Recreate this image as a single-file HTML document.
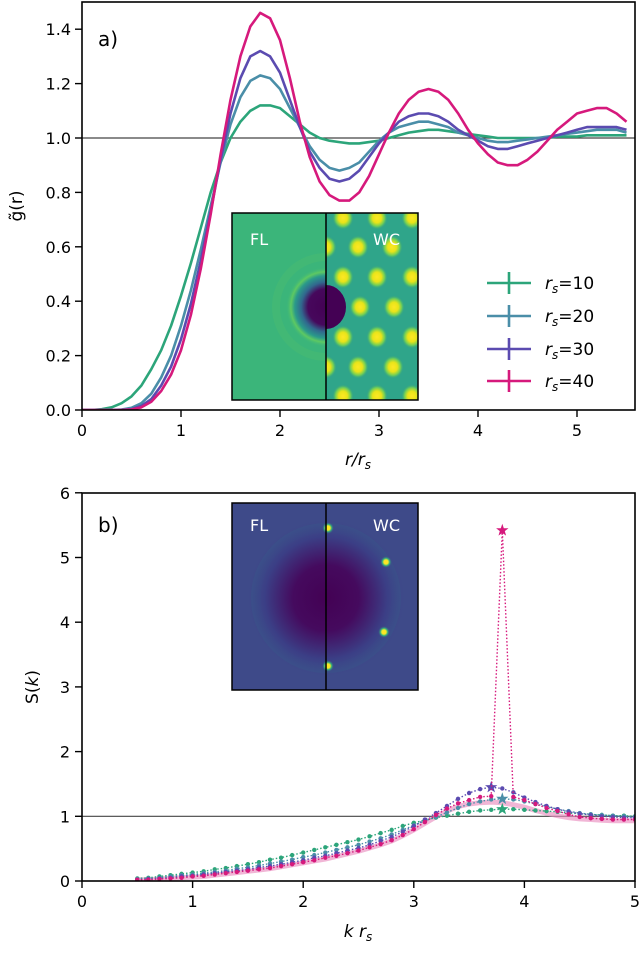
<!DOCTYPE html>
<html><head><meta charset="utf-8"><style>
html,body{margin:0;padding:0;background:#fff;}
svg{display:block;font-family:"DejaVu Sans","Liberation Sans",sans-serif;}
</style></head><body>
<svg id="fig" width="640" height="968" viewBox="0 0 640 968" xmlns="http://www.w3.org/2000/svg">
<defs>
<radialGradient id="hole" cx="0.5" cy="0.5" r="0.5">
<stop offset="0" stop-color="#440154"/><stop offset="0.45" stop-color="#46085c"/><stop offset="0.62" stop-color="#31688e"/><stop offset="0.78" stop-color="#2a9a8a"/><stop offset="0.88" stop-color="#5ec962"/><stop offset="1" stop-color="#3bb57a" stop-opacity="0"/>
</radialGradient>
<radialGradient id="blob" cx="0.5" cy="0.5" r="0.5">
<stop offset="0" stop-color="#fde725"/><stop offset="0.4" stop-color="#e8e419"/><stop offset="0.7" stop-color="#6ece58"/><stop offset="1" stop-color="#2a9a8a" stop-opacity="0"/>
</radialGradient>
<radialGradient id="skdark" cx="0.5" cy="0.5" r="0.5">
<stop offset="0" stop-color="#440154"/><stop offset="0.4" stop-color="#450a5e"/><stop offset="0.75" stop-color="#3b3f86"/><stop offset="1" stop-color="#3e4a89" stop-opacity="0"/>
</radialGradient>
<radialGradient id="bragg" cx="0.5" cy="0.5" r="0.5">
<stop offset="0" stop-color="#fde725"/><stop offset="0.35" stop-color="#fde725"/><stop offset="0.6" stop-color="#35b779"/><stop offset="1" stop-color="#3e4a89" stop-opacity="0"/>
</radialGradient>
<clipPath id="clipA"><rect x="82" y="2" width="553" height="408"/></clipPath>
<clipPath id="clipB"><rect x="82" y="493" width="553" height="388"/></clipPath>
<clipPath id="clipI1"><rect x="232" y="213" width="186" height="187"/></clipPath>
<clipPath id="clipI1R"><rect x="326" y="213" width="92" height="187"/></clipPath>
<clipPath id="clipI2"><rect x="232" y="503" width="186" height="187"/></clipPath>
</defs>
<g id="axA"></g>
<g id="axB"></g>
</svg>
<script>
// ---------- Panel a data ----------
const rVals = [0,0.1,0.2,0.3,0.4,0.5,0.6,0.7,0.8,0.9,1.0,1.1,1.2,1.3,1.4,1.5,1.6,1.7,1.8,1.9,2.0,2.1,2.2,2.3,2.4,2.5,2.6,2.7,2.8,2.9,3.0,3.1,3.2,3.3,3.4,3.5,3.6,3.7,3.8,3.9,4.0,4.1,4.2,4.3,4.4,4.5,4.6,4.7,4.8,4.9,5.0,5.1,5.2,5.3,5.4,5.5];
const g10 = [0,0,0.003,0.01,0.025,0.05,0.09,0.15,0.22,0.31,0.42,0.54,0.67,0.80,0.91,1.00,1.06,1.10,1.12,1.12,1.11,1.08,1.05,1.02,1.00,0.99,0.985,0.98,0.98,0.985,0.99,1.0,1.01,1.02,1.025,1.03,1.03,1.025,1.02,1.015,1.01,1.005,1.0,1.0,1.0,1.0,1.0,1.0,1.005,1.005,1.005,1.01,1.01,1.01,1.01,1.01];
const g20 = [0,0,0,0,0.002,0.008,0.025,0.06,0.12,0.20,0.31,0.44,0.59,0.75,0.91,1.05,1.15,1.21,1.23,1.22,1.18,1.11,1.04,0.97,0.92,0.89,0.88,0.89,0.91,0.95,0.99,1.02,1.04,1.05,1.06,1.06,1.05,1.04,1.02,1.01,1.00,0.99,0.985,0.985,0.99,0.995,1.0,1.005,1.01,1.015,1.02,1.025,1.03,1.03,1.03,1.02];
const g30 = [0,0,0,0,0,0.003,0.015,0.04,0.09,0.16,0.26,0.39,0.55,0.73,0.92,1.09,1.22,1.30,1.32,1.30,1.24,1.14,1.04,0.95,0.89,0.85,0.84,0.85,0.88,0.93,0.98,1.02,1.06,1.08,1.09,1.09,1.08,1.06,1.03,1.01,0.99,0.97,0.96,0.96,0.97,0.98,0.99,1.0,1.01,1.02,1.03,1.04,1.04,1.04,1.04,1.03];
const g40 = [0,0,0,0,0,0.002,0.01,0.03,0.07,0.13,0.22,0.35,0.52,0.72,0.94,1.14,1.30,1.41,1.46,1.44,1.36,1.22,1.06,0.93,0.84,0.79,0.77,0.77,0.80,0.86,0.94,1.02,1.09,1.14,1.17,1.18,1.17,1.14,1.09,1.03,0.98,0.94,0.91,0.90,0.90,0.92,0.95,0.99,1.03,1.06,1.09,1.10,1.11,1.11,1.09,1.06];
const aXTicks = [0,1,2,3,4,5];
const aYTicks = [0.0,0.2,0.4,0.6,0.8,1.0,1.2,1.4];
const aYTickLabels = ["0.0","0.2","0.4","0.6","0.8","1.0","1.2","1.4"];
const legendLabels = ["10","20","30","40"];

// ---------- Panel b data ----------
const kVals = [0.5,0.6,0.7,0.8,0.9,1.0,1.1,1.2,1.3,1.4,1.5,1.6,1.7,1.8,1.9,2.0,2.1,2.2,2.3,2.4,2.5,2.6,2.7,2.8,2.9,3.0,3.1,3.2,3.3,3.4,3.5,3.6,3.7,3.8,3.9,4.0,4.1,4.2,4.3,4.4,4.5,4.6,4.7,4.8,4.9,5.0];
const s10 = [0.04,0.05,0.07,0.09,0.11,0.13,0.15,0.18,0.20,0.23,0.26,0.29,0.33,0.36,0.40,0.44,0.48,0.52,0.56,0.60,0.64,0.69,0.74,0.79,0.85,0.90,0.94,0.98,1.01,1.04,1.07,1.09,1.10,1.11,1.11,1.10,1.09,1.08,1.07,1.05,1.04,1.03,1.02,1.01,1.01,1.00];
const s20 = [0.03,0.04,0.05,0.07,0.09,0.10,0.12,0.14,0.16,0.19,0.21,0.24,0.27,0.30,0.33,0.37,0.40,0.44,0.48,0.52,0.56,0.61,0.66,0.72,0.79,0.86,0.93,0.99,1.06,1.13,1.19,1.23,1.26,1.27,1.26,1.23,1.19,1.15,1.11,1.08,1.05,1.03,1.02,1.01,1.00,0.99];
const s30 = [0.02,0.03,0.04,0.05,0.07,0.08,0.10,0.12,0.14,0.16,0.18,0.21,0.23,0.26,0.29,0.32,0.36,0.39,0.43,0.47,0.51,0.56,0.62,0.68,0.76,0.85,0.95,1.05,1.16,1.27,1.36,1.42,1.45,1.43,1.37,1.29,1.22,1.16,1.11,1.07,1.04,1.02,1.00,0.99,0.98,0.98];
const s40 = [0.02,0.02,0.03,0.04,0.05,0.07,0.08,0.10,0.12,0.14,0.16,0.18,0.20,0.23,0.26,0.29,0.32,0.36,0.39,0.43,0.47,0.52,0.57,0.63,0.71,0.80,0.91,1.02,1.12,1.20,1.25,1.30,1.31,5.42,1.30,1.25,1.19,1.13,1.08,1.03,0.99,0.97,0.96,0.95,0.95,0.95];
const s40theory = [0.02,0.02,0.03,0.04,0.05,0.06,0.07,0.09,0.11,0.13,0.15,0.17,0.19,0.22,0.25,0.28,0.31,0.34,0.38,0.42,0.46,0.51,0.56,0.62,0.70,0.79,0.89,0.99,1.08,1.15,1.19,1.21,1.22,1.21,1.18,1.14,1.09,1.05,1.01,0.98,0.96,0.95,0.94,0.93,0.93,0.93];
const starK = [3.8,3.8,3.7,3.8];
const bXTicks = [0,1,2,3,4,5];
const bYTicks = [0,1,2,3,4,5,6];

const colors = ["#2ca57a","#4a8ea8","#5b4bb0","#d6197c"];
const NS = "http://www.w3.org/2000/svg";
function mk(parent, tag, attrs, text){
  const e = document.createElementNS(NS, tag);
  for (const k in attrs) e.setAttribute(k, attrs[k]);
  if (text !== undefined) e.textContent = text;
  parent.appendChild(e);
  return e;
}
function ax(v){ return 82 + v*99; }
function ay(v){ return 410 - v*272; }
function bx(v){ return 82 + v*110.6; }
function by(v){ return 881 - v*64.7; }

const A = document.getElementById('axA');
const B = document.getElementById('axB');

// ===== Panel A =====
let hl = mk(A,'line',{x1:82,x2:635,y1:ay(1),y2:ay(1),stroke:'#444','stroke-width':1.2});


const gSeries=[g10,g20,g30,g40];
const gClip = mk(A,'g',{'clip-path':'url(#clipA)'});
gSeries.forEach((s,i)=>{
  const pts = s.map((v,j)=>ax(rVals[j]).toFixed(1)+','+ay(v).toFixed(1)).join(' ');
  const p = mk(gClip,'polyline',{points:pts,fill:'none',stroke:colors[i],'stroke-width':2.6,'stroke-linejoin':'round'});
  
  
});
// inset 1
const in1 = mk(A,'g',{});


mk(in1,'rect',{x:232,y:213,width:186,height:187,fill:'#3bb57a'});
const i1c = mk(in1,'g',{'clip-path':'url(#clipI1)'});
mk(i1c,'circle',{cx:326,cy:307,r:50,fill:'none',stroke:'#5ec962','stroke-width':8,opacity:0.2});
mk(i1c,'circle',{cx:326,cy:307,r:40,fill:'url(#hole)'});
const i1r = mk(in1,'g',{'clip-path':'url(#clipI1R)'});
mk(i1r,'rect',{x:326,y:213,width:92,height:187,fill:'#2fa58a'});
const blobs=[[343,218],[377,218],[412,218],[326,247],[358,247],[392,247],[343,277],[377,277],[412,277],[360,307],[394,307],[343,337],[377,337],[412,337],[326,367],[358,367],[393,367],[343,396],[377,396],[412,396]];
blobs.forEach(b=>mk(i1r,'ellipse',{cx:b[0],cy:b[1],rx:11,ry:12,fill:'url(#blob)'}));
mk(i1r,'ellipse',{cx:326,cy:307,rx:20,ry:22,fill:'#440154'});
mk(in1,'line',{x1:326,x2:326,y1:213,y2:400,stroke:'#000','stroke-width':1.5});
mk(in1,'rect',{x:232,y:213,width:186,height:187,fill:'none',stroke:'#000','stroke-width':1.5});
mk(in1,'text',{x:250,y:245,fill:'#fff','font-size':16},'FL');
mk(in1,'text',{x:373,y:245,fill:'#fff','font-size':16},'WC');

let fr = mk(A,'rect',{x:82,y:2,width:553,height:408,fill:'none',stroke:'#000','stroke-width':1.6});


aXTicks.forEach(t=>{
  mk(A,'line',{x1:ax(t),x2:ax(t),y1:410,y2:417,stroke:'#000','stroke-width':1.4});
  const tl = mk(A,'text',{x:ax(t),y:436,'font-size':16,'text-anchor':'middle'},String(t));
  
  
});
aYTicks.forEach((t,i)=>{
  mk(A,'line',{x1:75,x2:82,y1:ay(t),y2:ay(t),stroke:'#000','stroke-width':1.4});
  const tl = mk(A,'text',{x:71,y:ay(t)+6,'font-size':16,'text-anchor':'end'},aYTickLabels[i]);
  
  
});
let xt = mk(A,'text',{x:358,y:465,'font-size':17,'text-anchor':'middle','font-style':'italic'});


xt.innerHTML='r/r<tspan font-size="12" dy="4">s</tspan>';
let yt = mk(A,'text',{x:22,y:206,'font-size':17,'text-anchor':'middle',transform:'rotate(-90 22 206)'},'g̃(r)');


let pa = mk(A,'text',{x:98,y:46,'font-size':20},'a)');


const legendY=[283,316,349,381];
legendLabels.forEach((lab,i)=>{
  const g = mk(A,'g',{});
  
  
  const y=legendY[i];
  mk(g,'line',{x1:487,x2:531,y1:y,y2:y,stroke:colors[i],'stroke-width':2.6});
  mk(g,'line',{x1:509,x2:509,y1:y-11,y2:y+11,stroke:colors[i],'stroke-width':2.6});
  const t=mk(g,'text',{x:545,y:y+6,'font-size':17});
  t.innerHTML='<tspan font-style="italic">r</tspan><tspan font-size="12" dy="4" font-style="italic">s</tspan><tspan dy="-4">='+lab+'</tspan>';
});

// ===== Panel B =====
let hl2 = mk(B,'line',{x1:82,x2:635,y1:by(1),y2:by(1),stroke:'#444','stroke-width':1.2});


const bClip = mk(B,'g',{'clip-path':'url(#clipB)'});
const th = mk(bClip,'polyline',{points:s40theory.map((v,j)=>bx(kVals[j]).toFixed(1)+','+by(v).toFixed(1)).join(' '),fill:'none',stroke:'#e98fc0','stroke-width':5,opacity:0.65});


const sSeries=[s10,s20,s30,s40];
sSeries.forEach((s,i)=>{
  const g = mk(bClip,'g',{});
  
  
  mk(g,'polyline',{points:s.map((v,j)=>bx(kVals[j]).toFixed(1)+','+by(v).toFixed(1)).join(' '),fill:'none',stroke:colors[i],'stroke-width':1.4,'stroke-dasharray':'1.5 2'});
  s.forEach((v,j)=>{
    if (Math.abs(kVals[j]-starK[i])<1e-6) return;
    const c = mk(g,'circle',{cx:bx(kVals[j]),cy:by(v),r:2.2,fill:colors[i]});
    
    
  });
  const si = kVals.findIndex(k=>Math.abs(k-starK[i])<1e-6);
  const cx=bx(starK[i]), cy=by(s[si]);
  let pts=[];
  for(let q=0;q<10;q++){const a=-Math.PI/2+q*Math.PI/5;const rr=q%2?2.6:6.5;pts.push((cx+rr*Math.cos(a)).toFixed(1)+','+(cy+rr*Math.sin(a)).toFixed(1));}
  const st = mk(g,'polygon',{points:pts.join(' '),fill:colors[i]});
  
  
});
const in2 = mk(B,'g',{});


mk(in2,'rect',{x:232,y:503,width:186,height:187,fill:'#3e4a89'});
const i2c = mk(in2,'g',{'clip-path':'url(#clipI2)'});
mk(i2c,'circle',{cx:326,cy:598,r:70,fill:'none',stroke:'#2f6f8e','stroke-width':10,opacity:0.25});
mk(i2c,'circle',{cx:326,cy:598,r:82,fill:'url(#skdark)'});
[[328,528],[386,562],[384,632],[328,666]].forEach(p=>mk(i2c,'circle',{cx:p[0],cy:p[1],r:6,fill:'url(#bragg)'}));
mk(in2,'line',{x1:326,x2:326,y1:503,y2:690,stroke:'#000','stroke-width':1.5});
mk(in2,'rect',{x:232,y:503,width:186,height:187,fill:'none',stroke:'#000','stroke-width':1.5});
mk(in2,'text',{x:250,y:531,fill:'#fff','font-size':16},'FL');
mk(in2,'text',{x:373,y:531,fill:'#fff','font-size':16},'WC');

let fr2 = mk(B,'rect',{x:82,y:493,width:553,height:388,fill:'none',stroke:'#000','stroke-width':1.6});


bXTicks.forEach(t=>{
  mk(B,'line',{x1:bx(t),x2:bx(t),y1:881,y2:888,stroke:'#000','stroke-width':1.4});
  const tl = mk(B,'text',{x:bx(t),y:907,'font-size':16,'text-anchor':'middle'},String(t));
  
  
});
bYTicks.forEach(t=>{
  mk(B,'line',{x1:75,x2:82,y1:by(t),y2:by(t),stroke:'#000','stroke-width':1.4});
  const tl = mk(B,'text',{x:70,y:by(t)+6,'font-size':16,'text-anchor':'end'},String(t));
  
  
});
let xt2 = mk(B,'text',{x:358,y:937,'font-size':17,'text-anchor':'middle','font-style':'italic'});


xt2.innerHTML='k r<tspan font-size="12" dy="4">s</tspan>';
let yt2 = mk(B,'text',{x:38,y:687,'font-size':17,'text-anchor':'middle',transform:'rotate(-90 38 687)'});


yt2.innerHTML='S(<tspan font-style="italic">k</tspan>)';
let pb = mk(B,'text',{x:98,y:532,'font-size':20},'b)');


</script>
</body></html>
